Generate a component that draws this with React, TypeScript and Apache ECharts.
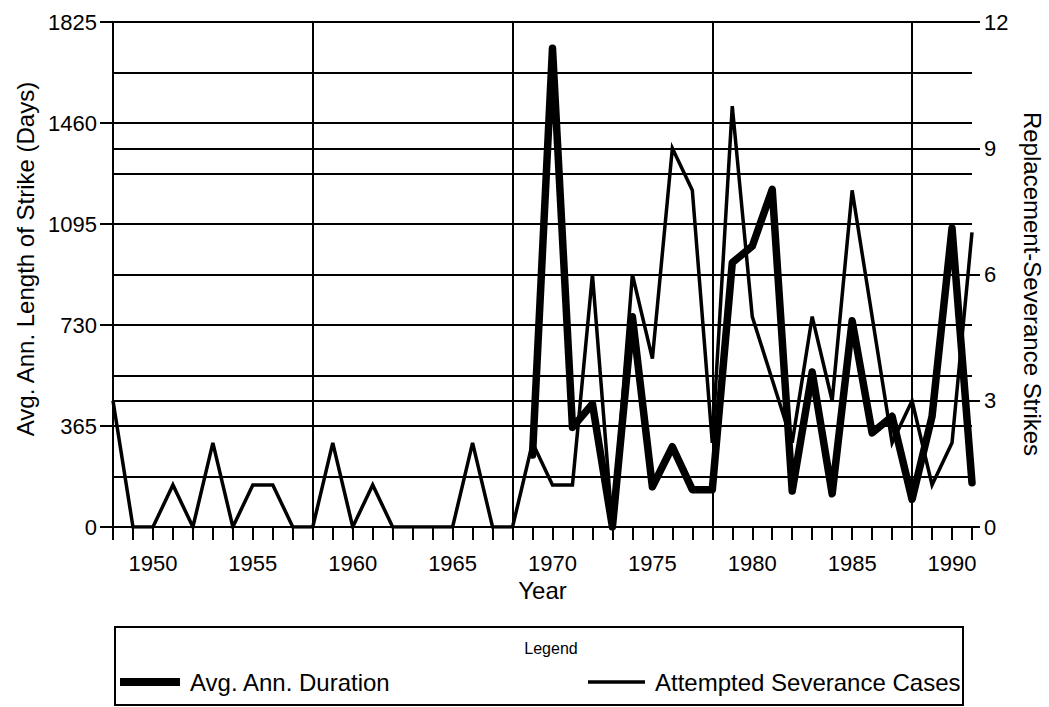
import React, { useEffect, useRef } from "react";
import * as echarts from "echarts";

const years = [
  "1948", "1949", "1950", "1951", "1952", "1953", "1954", "1955", "1956", "1957",
  "1958", "1959", "1960", "1961", "1962", "1963", "1964", "1965", "1966", "1967",
  "1968", "1969", "1970", "1971", "1972", "1973", "1974", "1975", "1976", "1977",
  "1978", "1979", "1980", "1981", "1982", "1983", "1984", "1985", "1986", "1987",
  "1988", "1989", "1990", "1991",
];

// Avg. Ann. Duration (days) – left axis
const durationDays = [
  null, null, null, null, null, null, null, null, null, null,
  null, null, null, null, null, null, null, null, null, null,
  null, 260, 1730, 360, 445, 0, 760, 145, 290, 135,
  135, 955, 1015, 1220, 130, 560, 120, 745, 340, 400,
  100, 400, 1080, 160,
];

// Attempted Severance Cases – right axis
const severanceCases = [
  3, 0, 0, 1, 0, 2, 0, 1, 1, 0,
  0, 2, 0, 1, 0, 0, 0, 0, 2, 0,
  0, 2, 1, 1, 6, 0, 6, 4, 9, 8,
  2, 10, 5, 3.5, 2, 5, 3, 8, 5, 2,
  3, 1, 2, 7,
];

const leftTicks = [0, 365, 730, 1095, 1460, 1825];
const rightTicks = [0, 3, 6, 9, 12];

const FONT = "'Liberation Sans', Arial, Helvetica, sans-serif";

export default function App() {
  const ref = useRef<HTMLDivElement>(null);

  useEffect(() => {
    const chart = echarts.init(ref.current!, null, { renderer: "svg" });
    const black = "#000";
    const option = {
      animation: false,
      backgroundColor: "#fff",
      textStyle: { fontFamily: FONT, color: black },
      grid: { left: 113, right: 77, top: 22, bottom: 180 },
      xAxis: {
        type: "category",
        data: years,
        boundaryGap: false,
        axisLine: { show: true, lineStyle: { color: black, width: 2 } },
        axisTick: { show: true, interval: 0, length: 13, lineStyle: { color: black, width: 2 } },
        axisLabel: {
          interval: (_i: number, v: string) => Number(v) % 5 === 0,
          color: black,
          fontSize: 22,
          fontFamily: FONT,
          margin: 25,
        },
        splitLine: {
          show: true,
          interval: (i: number) => i % 10 === 0,
          lineStyle: { color: black, width: 2 },
        },
        name: "Year",
        nameLocation: "middle",
        nameGap: 51,
        nameTextStyle: { fontSize: 24, fontFamily: FONT, color: black },
      },
      yAxis: [
        {
          type: "value",
          position: "left",
          min: leftTicks[0],
          max: leftTicks[leftTicks.length - 1],
          interval: leftTicks[1] - leftTicks[0],
          axisLine: { show: true, lineStyle: { color: black, width: 2 } },
          axisTick: { show: true, length: 13, lineStyle: { color: black, width: 2 } },
          axisLabel: {
            color: black,
            fontSize: 22,
            fontFamily: FONT,
            margin: 16,
            formatter: (v: number) => String(v),
          },
          splitLine: { show: true, lineStyle: { color: black, width: 2 } },
          minorTick: { show: false, splitNumber: 2 },
          minorSplitLine: { show: true, lineStyle: { color: black, width: 2 } },
        },
        {
          type: "value",
          position: "right",
          min: rightTicks[0],
          max: rightTicks[rightTicks.length - 1],
          interval: rightTicks[1] - rightTicks[0],
          axisLine: { show: false },
          axisTick: { show: true, length: 8, lineStyle: { color: black, width: 2 } },
          axisLabel: {
            color: black,
            fontSize: 22,
            fontFamily: FONT,
            margin: 12,
            formatter: (v: number) => String(v),
          },
          splitLine: { show: true, lineStyle: { color: black, width: 2 } },
        },
      ],
      series: [
        {
          name: "Attempted Severance Cases",
          type: "line",
          yAxisIndex: 1,
          data: severanceCases,
          showSymbol: false,
          symbol: "none",
          lineStyle: { color: black, width: 3.5, join: "miter", miterLimit: 10 },
          z: 3,
        },
        {
          name: "Avg. Ann. Duration",
          type: "line",
          yAxisIndex: 0,
          data: durationDays,
          showSymbol: false,
          symbol: "none",
          connectNulls: false,
          lineStyle: { color: black, width: 7.5, join: "round", cap: "round" },
          z: 4,
        },
      ],
      graphic: [
        {
          type: "text",
          x: 25,
          y: 259,
          rotation: Math.PI / 2,
          style: {
            text: "Avg. Ann. Length of Strike (Days)",
            font: `24px ${FONT}`,
            fill: black,
            textAlign: "center",
            textVerticalAlign: "middle",
          },
        },
        {
          type: "text",
          x: 1032,
          y: 284,
          rotation: -Math.PI / 2,
          style: {
            text: "Replacement-Severance Strikes",
            font: `24px ${FONT}`,
            fill: black,
            textAlign: "center",
            textVerticalAlign: "middle",
          },
        },
        {
          type: "rect",
          shape: { x: 115, y: 627, width: 848, height: 78 },
          style: { fill: "none", stroke: black, lineWidth: 2 },
        },
        {
          type: "text",
          x: 551,
          y: 648,
          style: {
            text: "Legend",
            font: `16px ${FONT}`,
            fill: black,
            textAlign: "center",
            textVerticalAlign: "middle",
          },
        },
        {
          type: "line",
          shape: { x1: 120, y1: 682, x2: 180, y2: 682 },
          style: { stroke: black, lineWidth: 8 },
        },
        {
          type: "text",
          x: 190,
          y: 682,
          style: {
            text: "Avg. Ann. Duration",
            font: `24px ${FONT}`,
            fill: black,
            textAlign: "left",
            textVerticalAlign: "middle",
          },
        },
        {
          type: "line",
          shape: { x1: 588, y1: 682, x2: 645, y2: 682 },
          style: { stroke: black, lineWidth: 3.5 },
        },
        {
          type: "text",
          x: 655,
          y: 682,
          style: {
            text: "Attempted Severance Cases",
            font: `24px ${FONT}`,
            fill: black,
            textAlign: "left",
            textVerticalAlign: "middle",
          },
        },
      ],
    };
    chart.setOption(option as any);
    return () => chart.dispose();
  }, []);

  return (
    <div
      ref={ref}
      style={{ position: "fixed", left: 0, top: 0, width: 1049, height: 707, background: "#fff" }}
    />
  );
}
